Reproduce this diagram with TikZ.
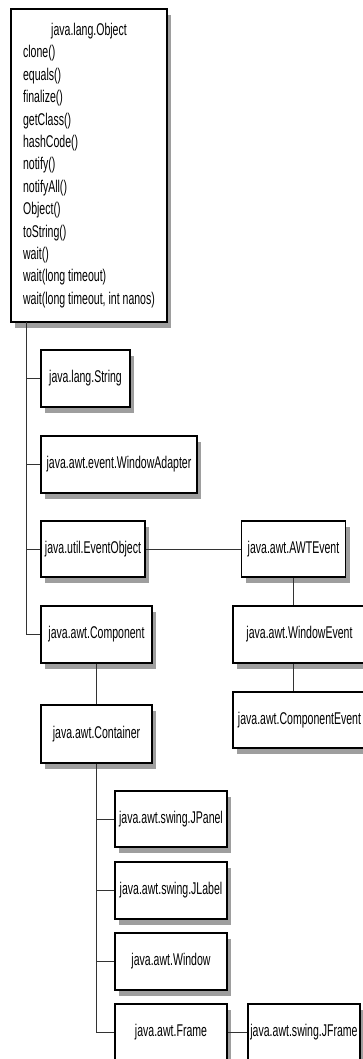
\documentclass[tikz,border=0pt]{standalone}
\usepackage{fontspec}
\setmainfont[FakeStretch=0.62]{Liberation Sans}
\usetikzlibrary{shadows}

\begin{document}
\begin{tikzpicture}[x=1pt,y=-1pt,
  cls/.style={draw,fill=white,line width=1.1pt,inner sep=0pt,
    minimum height=57pt,font=\fontsize{17}{22.4}\selectfont,
    drop shadow={shadow xshift=4pt,shadow yshift=-6pt,fill=black!38,opacity=1}},
  link/.style={draw=black!80,line width=0.9pt}]
\useasboundingbox (0,0) rectangle (363,1059);
\clip (0,0) rectangle (363,1059);

\node [cls,minimum width=156pt,minimum height=313pt] (obj) at (89,165.5)
  {\begin{tabular}{@{}l@{}}
   \multicolumn{1}{@{}c@{}}{java.lang.Object}\\
   clone()\\ equals()\\ finalize()\\ getClass()\\ hashCode()\\
   notify()\\ notifyAll()\\ Object()\\ toString()\\ wait()\\
   wait(long timeout)\\ wait(long timeout, int nanos)
   \end{tabular}};
\node [cls,minimum width=89pt] (str) at (85.5,378.5) {java.lang.String};
\node [cls,minimum width=156pt] (wadapt) at (119,464.5) {java.awt.event.WindowAdapter};
\node [cls,minimum width=104pt,minimum height=56pt] (evobj) at (93,549) {java.util.EventObject};
\node [cls,minimum width=104pt,minimum height=56pt] (awtev) at (293.5,549) {java.awt.AWTEvent};
\node [cls,minimum width=133pt] (winev) at (299.5,634.5) {java.awt.WindowEvent};
\node [cls,minimum width=133pt,minimum height=56pt] (compev) at (299.5,720) {java.awt.ComponentEvent};
\node [cls,minimum width=111pt] (comp) at (96.5,634.5) {java.awt.Component};
\node [cls,minimum width=111pt,minimum height=58pt] (cont) at (96.5,734) {java.awt.Container};
\node [cls,minimum width=112pt,minimum height=56pt] (jpanel) at (171,819) {java.awt.swing.JPanel};
\node [cls,minimum width=112pt] (jlabel) at (171,890.5) {java.awt.swing.JLabel};
\node [cls,minimum width=112pt] (win) at (171,961.5) {java.awt.Window};
\node [cls,minimum width=112pt,minimum height=56pt] (frame) at (171,1032) {java.awt.Frame};
\node [cls,minimum width=112pt,minimum height=56pt] (jframe) at (304,1032) {java.awt.swing.JFrame};

\coordinate (tap) at (26,322);
\draw [link] (tap) |- (comp.west);
\draw [link] (tap |- str.west) -- (str.west);
\draw [link] (tap |- wadapt.west) -- (wadapt.west);
\draw [link] (tap |- evobj.west) -- (evobj.west);
\draw [link] (evobj.east) -- (awtev.west);
\draw [link] (awtev.south) -- (awtev.south |- winev.north);
\draw [link] (awtev.south |- winev.south) -- (awtev.south |- compev.north);
\draw [link] (comp.south) -- (cont.north);
\draw [link] (cont.south) |- (frame.west);
\draw [link] (cont.south |- jpanel.west) -- (jpanel.west);
\draw [link] (cont.south |- jlabel.west) -- (jlabel.west);
\draw [link] (cont.south |- win.west) -- (win.west);
\draw [link] (frame.east) -- (jframe.west);
\end{tikzpicture}
\end{document}
